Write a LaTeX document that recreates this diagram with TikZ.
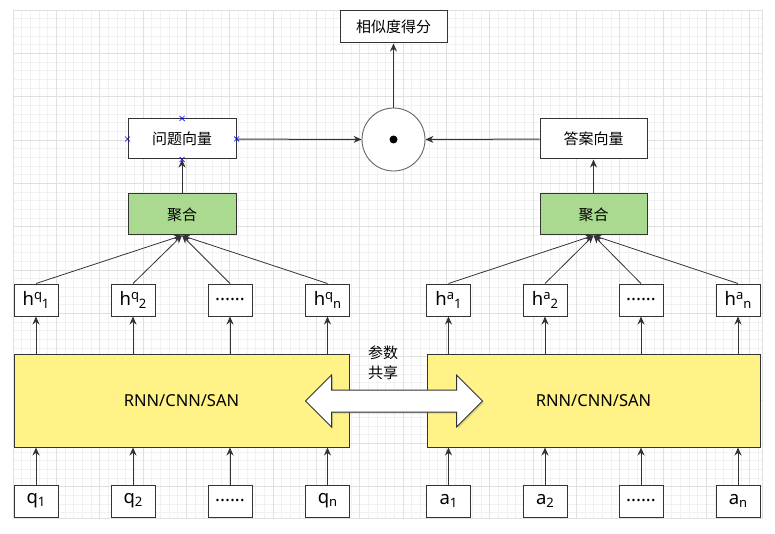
\documentclass[tikz,border=0pt]{standalone}
\usepackage{fontspec}
\setmainfont{Noto Sans}
\newfontfamily\cjk{Noto Sans CJK SC}
\usetikzlibrary{positioning,arrows.meta,shapes.arrows,shadows}
\definecolor{linec}{RGB}{51,51,51}
\definecolor{aggfill}{RGB}{170,218,143}
\definecolor{encfill}{RGB}{255,242,135}
\definecolor{gridminor}{RGB}{241,241,241}
\definecolor{gridmajor}{RGB}{224,224,224}
\definecolor{markc}{RGB}{0,0,255}
\newcommand{\hvec}[2]{h\raisebox{6pt}{\fontsize{13}{13}\selectfont #1}\raisebox{-3pt}{\fontsize{13}{13}\selectfont #2}}
\newcommand{\tok}[2]{#1\raisebox{-3pt}{\fontsize{13}{13}\selectfont #2}}
\tikzset{
  cell/.style={draw=linec, line width=1pt, fill=white, minimum width=44pt, minimum height=32pt, inner sep=0pt, font=\fontsize{18.5}{18.5}\selectfont},
  vecbox/.style={draw=linec, line width=1pt, fill=white, minimum width=108pt, minimum height=40pt, inner sep=0pt, font=\cjk\fontsize{15}{15}\selectfont},
  aggbox/.style={vecbox, fill=aggfill, minimum height=41pt},
  encbox/.style={draw=linec, line width=1pt, fill=encfill, minimum height=93pt, inner sep=0pt, font=\fontsize{16.5}{16.5}\selectfont},
  arr/.style={linec, line width=1pt, -{Stealth[length=8pt,width=7pt]}},
  fan/.style={linec, line width=0.8pt, -{Stealth[length=8pt,width=7pt]}},
}

\begin{document}
\begin{tikzpicture}[x=1pt,y=-1pt]
  \useasboundingbox (0,0) rectangle (775,534);
  % background grid
  \begin{scope}[shift={(13,10)}]
    \draw[gridminor, line width=0.8pt, step=8.6667pt] (0,0) grid (749,508);
    \draw[gridmajor, line width=0.9pt, step=43.3333pt] (0,0) grid (749,508);
    \draw[gridmajor, line width=0.9pt] (0,0) rectangle (749,508);
  \end{scope}

  % top part
  \node[vecbox, minimum width=107pt, minimum height=32pt] (score) at (393.5,27) {相似度得分};
  \node[circle, draw=linec!75, line width=0.9pt, fill=white, minimum size=63pt, inner sep=0pt] (dot) at (393.5,139.5) {};
  \node[circle, fill=black, minimum size=8pt, inner sep=0pt] (dotc) at (dot) {};
  \node[vecbox] (qv) at (182,139) {问题向量};
  \node[vecbox, minimum width=107pt] (av) at (593.5,139) {答案向量};
  \node[aggbox] (qagg) at (182,214.5) {聚合};
  \node[aggbox, minimum width=107pt] (aagg) at (593.5,214.5) {聚合};

  % hidden states
  \node[cell] (hq1) at (36,300) {\hvec{q}{1}};
  \node[cell] (hq2) at (133,300) {\hvec{q}{2}};
  \node[cell] (hqd) at (230,300) {......};
  \node[cell] (hqn) at (327.5,300) {\hvec{q}{n}};
  \node[cell] (ha1) at (448.5,300) {\hvec{a}{1}};
  \node[cell] (ha2) at (545,300) {\hvec{a}{2}};
  \node[cell] (had) at (641,300) {......};
  \node[cell] (han) at (738,300) {\hvec{a}{n}};

  % encoders
  \node[encbox, minimum width=335pt] (qenc) at (181.5,400.5) {RNN/CNN/SAN};
  \node[encbox, minimum width=333pt] (aenc) at (593.5,400.5) {RNN/CNN/SAN};
  \node[double arrow, draw=linec, line width=1pt, fill=white, inner xsep=0pt, inner ysep=10.5pt,
        minimum height=177pt, double arrow head extend=15pt,
        drop shadow={shadow xshift=1.5pt, shadow yshift=-1.5pt, opacity=0.3}] (share) at (394,401) {};
  \node[font=\cjk\fontsize{15}{20}\selectfont, align=center] (sharetxt) at (383,362.5) {参数\\共享};

  % inputs
  \node[cell] (qin1) at (36,501) {\tok{q}{1}};
  \node[cell] (qin2) at (133,501) {\tok{q}{2}};
  \node[cell] (qind) at (230,501) {......};
  \node[cell] (qinn) at (327.5,501) {\tok{q}{n}};
  \node[cell] (ain1) at (448.5,501) {\tok{a}{1}};
  \node[cell] (ain2) at (545,501) {\tok{a}{2}};
  \node[cell] (aind) at (641,501) {......};
  \node[cell] (ainn) at (738,501) {\tok{a}{n}};

  \path[arr]
    (qin1.north) edge (qin1.north |- qenc.south)
    (qin2.north) edge (qin2.north |- qenc.south)
    (qind.north) edge (qind.north |- qenc.south)
    (qinn.north) edge (qinn.north |- qenc.south)
    (ain1.north) edge (ain1.north |- aenc.south)
    (ain2.north) edge (ain2.north |- aenc.south)
    (aind.north) edge (aind.north |- aenc.south)
    (ainn.north) edge (ainn.north |- aenc.south)
    (hq1.south |- qenc.north) edge (hq1.south)
    (hq2.south |- qenc.north) edge (hq2.south)
    (hqd.south |- qenc.north) edge (hqd.south)
    (hqn.south |- qenc.north) edge (hqn.south)
    (ha1.south |- aenc.north) edge (ha1.south)
    (ha2.south |- aenc.north) edge (ha2.south)
    (had.south |- aenc.north) edge (had.south)
    (han.south |- aenc.north) edge (han.south)
    (qagg) edge (qv)
    (aagg) edge (av)
    (qv) edge (dot)
    (av) edge (dot)
    (dot) edge (score);

  \path[fan]
    (hq1.north) edge (qagg.south)
    (hq2.north) edge (qagg.south)
    (hqd.north) edge (qagg.south)
    (hqn.north) edge (qagg.south)
    (ha1.north) edge (aagg.south)
    (ha2.north) edge (aagg.south)
    (had.north) edge (aagg.south)
    (han.north) edge (aagg.south);

  % connection marks on the question vector
  \draw[markc, line width=0.7pt]
    ([shift={(-2.5,-2.5)}]qv.north) -- ([shift={(2.5,2.5)}]qv.north)
    ([shift={(-2.5,2.5)}]qv.north) -- ([shift={(2.5,-2.5)}]qv.north)
    ([shift={(-2.5,-2.5)}]qv.south) -- ([shift={(2.5,2.5)}]qv.south)
    ([shift={(-2.5,2.5)}]qv.south) -- ([shift={(2.5,-2.5)}]qv.south)
    ([shift={(-2.5,-2.5)}]qv.west) -- ([shift={(2.5,2.5)}]qv.west)
    ([shift={(-2.5,2.5)}]qv.west) -- ([shift={(2.5,-2.5)}]qv.west)
    ([shift={(-2.5,-2.5)}]qv.east) -- ([shift={(2.5,2.5)}]qv.east)
    ([shift={(-2.5,2.5)}]qv.east) -- ([shift={(2.5,-2.5)}]qv.east);
\end{tikzpicture}
\end{document}
